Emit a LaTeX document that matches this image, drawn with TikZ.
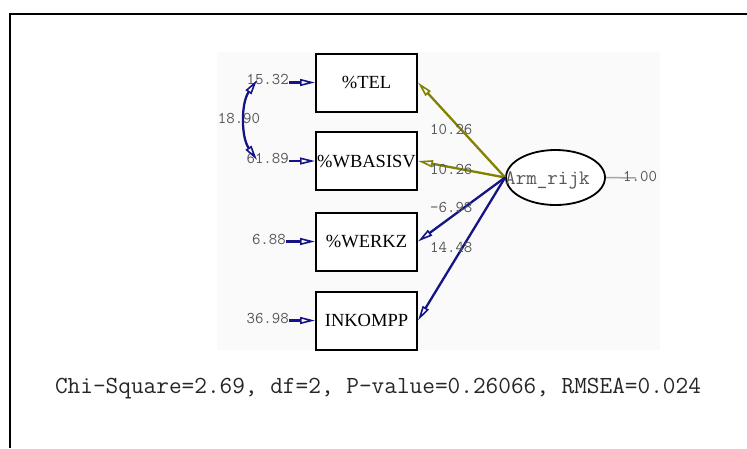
\documentclass[tikz,border=0pt]{standalone}
\usepackage{fontspec}
\newfontfamily\seriff{Liberation Serif}
\usetikzlibrary{arrows.meta,shapes.geometric}
\definecolor{navyc}{RGB}{20,20,135}
\definecolor{olivec}{RGB}{130,130,0}
\definecolor{labc}{RGB}{85,85,85}
\begin{document}
\begin{tikzpicture}[x=1pt,y=-1pt,
  varbox/.style={draw=black,fill=white,line width=2pt,minimum width=101pt,minimum height=58pt,inner sep=0pt,font=\seriff\fontsize{18.5}{22}\selectfont},
  latent/.style={draw=black,fill=white,ellipse,line width=1.8pt,minimum width=99pt,minimum height=55pt,inner sep=0pt},
  numlab/.style={inner sep=0pt,text=labc,font=\ttfamily\fontsize{16.4}{18}\selectfont},
  tipend/.style={-{Triangle[open,length=15pt,width=7pt,line width=1.6pt]}},
  conn/.style={line width=2.3pt}]
\useasboundingbox (0,0) rectangle (747,448);
\fill[black!2] (217,52) rectangle (660,350);
\draw[line width=2pt] (747,14) -- (10,14) -- (10,448);
% observed variables
\node[varbox] (tel) at (366.5,82.5) {\%TEL};
\node[varbox] (wbas) at (366.5,161) {\%WBASISV};
\node[varbox] (werkz) at (366.5,241.5) {\%WERKZ};
\node[varbox] (inkom) at (366.5,320.5) {INKOMPP};
% latent
\node[latent] (arm) at (555.5,177.5) {};
\node[inner sep=0pt,anchor=west,text=labc,font=\ttfamily\fontsize{20.5}{22}\selectfont] (armlab) at (505,180) {Arm\_rijk};
% loadings
\draw[conn,olivec,tipend] (arm.west) -- (tel.east);
\draw[conn,olivec,tipend] (arm.west) -- (wbas.east);
\draw[conn,navyc,tipend] (arm.west) -- (werkz.east);
\draw[conn,navyc,tipend] (arm.west) -- (inkom.east);
\node[numlab,anchor=west] (l1) at (430,129) {10.26};
\node[numlab,anchor=west] (l2) at (430,169) {10.26};
\node[numlab,anchor=west] (l3) at (430,207) {-6.98};
\node[numlab,anchor=west] (l4) at (430,247) {14.48};
% latent variance
\coordinate (oneend) at (636,178);
\draw[line width=1.5pt,black!35] (arm.east) -- (oneend);
\node[numlab,anchor=west] (one) at (623,176) {1.00};
% errors
\node[numlab,anchor=base east] (e1) at (289,84) {15.32};
\node[numlab,anchor=base east] (e2) at (289,163) {61.89};
\node[numlab,anchor=base east] (e3) at (286,244) {6.88};
\node[numlab,anchor=base east] (e4) at (289,323) {36.98};
\draw[conn,navyc,tipend] (e1.east |- tel.west) -- (tel.west);
\draw[conn,navyc,tipend] (e2.east |- wbas.west) -- (wbas.west);
\draw[conn,navyc,tipend] (e3.east |- werkz.west) -- (werkz.west);
\draw[conn,navyc,tipend] (e4.east |- inkom.west) -- (inkom.west);
% covariance
\coordinate (c1) at (257,80);
\coordinate (c2) at (257,160);
\draw[conn,navyc,{Triangle[open,length=15pt,width=7pt,line width=1.6pt]}-{Triangle[open,length=15pt,width=7pt,line width=1.6pt]}] (c1) .. controls (241,103) and (241,137) .. (c2);
\node[numlab] (cov) at (239,118) {18.90};
% fit
\node[text=black!85,font=\ttfamily\fontsize{24.6}{27}\selectfont] (fit) at (378,389) {Chi-Square=2.69, df=2, P-value=0.26066, RMSEA=0.024};
\end{tikzpicture}
\end{document}
